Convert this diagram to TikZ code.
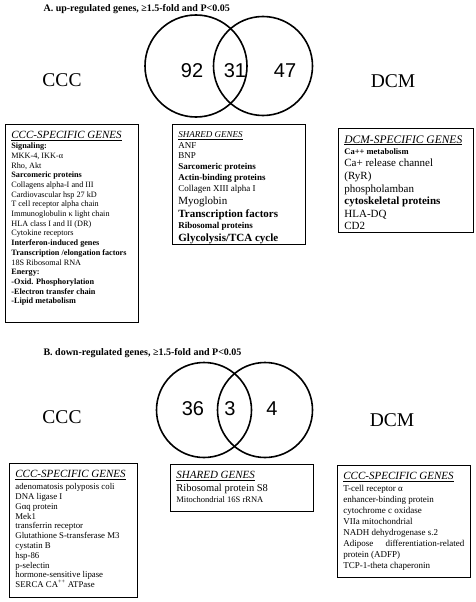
\documentclass[tikz,border=0pt]{standalone}
\usepackage{fontspec}
\setmainfont{Liberation Serif}
\newfontfamily\countfont{Liberation Sans}
\tikzset{
    venn/.style={circle,draw,line width=1.6pt,inner sep=0pt},
    count/.style={font=\countfont\fontsize{20}{20}\selectfont},
    group/.style={font=\fontsize{19.5}{20}\selectfont},
    panel/.style={anchor=base west,font=\bfseries\fontsize{10}{12}\selectfont},
    genes/.style={draw,line width=0.8pt,anchor=north west,inner xsep=6pt,inner ysep=5pt},
}
\newcommand{\gline}[3]{{\fontsize{#1}{#2}\selectfont #3\par}}
\newcommand{\ghead}[1]{\underline{\textit{#1}}}
\newcommand{\genebox}[3]{\parbox[t][#2][t]{#1}{\raggedright\vspace*{2pt}#3}}

\begin{document}
\begin{tikzpicture}[x=1pt,y=-1pt]
    \useasboundingbox (0,0) rectangle (475,602);
    % A. up-regulated genes
    \node[panel] (tA) at (40,12) {A. up-regulated genes, ≥1.5-fold and P<0.05};
    \node[venn,minimum size=102pt] (A1) at (196,66) {};
    \node[venn,minimum size=99pt] (A2) at (263,66) {};
    \node[count] (nA1) at (192,71) {92};
    \node[count] (nA12) at (235,71) {31};
    \node[count] (nA2) at (285,71) {47};
    \node[group] (cccA) at (62,80) {CCC};
    \node[group] (dcmA) at (393,81) {DCM};
    \node[genes] (gA1) at (5,124) {\genebox{121pt}{188pt}{%
        \gline{11}{11}{\ghead{CCC-SPECIFIC GENES}}
        \gline{8.2}{10}{\textbf{Signaling:}}
        \gline{8.2}{9.7}{MKK-4, IKK-α}
        \gline{8.2}{9.7}{Rho, Akt}
        \gline{8.2}{9.7}{\textbf{Sarcomeric proteins}}
        \gline{8.2}{9.7}{Collagens alpha-I and III}
        \gline{8.2}{9.7}{Cardiovascular hsp 27 kD}
        \gline{8.2}{9.7}{T cell receptor alpha chain}
        \gline{8.2}{9.7}{Immunoglobulin κ light chain}
        \gline{8.2}{9.7}{HLA class I and II (DR)}
        \gline{8.2}{9.7}{Cytokine receptors}
        \gline{8.2}{9.7}{\textbf{Interferon-induced genes}}
        \gline{8.2}{9.7}{\textbf{Transcription /elongation factors}}
        \gline{8.2}{9.7}{18S Ribosomal RNA}
        \gline{8.2}{9.7}{\textbf{Energy:}}
        \gline{8.2}{9.7}{\textbf{-Oxid. Phosphorylation}}
        \gline{8.2}{9.7}{\textbf{-Electron transfer chain}}
        \gline{8.2}{9.7}{\textbf{-Lipid metabolism}}}};
    \node[genes] (gA12) at (172,124) {\genebox{121pt}{110pt}{%
        \gline{9}{9}{\ghead{SHARED GENES}}
        \gline{9}{11}{ANF}
        \gline{9}{10.5}{BNP}
        \gline{9}{11}{\textbf{Sarcomeric proteins}}
        \gline{9}{11}{\textbf{Actin-binding proteins}}
        \gline{9}{11}{Collagen XIII alpha I}
        \gline{11}{13}{Myoglobin}
        \gline{11}{13}{\textbf{Transcription factors}}
        \gline{9}{10.5}{\textbf{Ribosomal proteins}}
        \gline{11}{13.5}{\textbf{Glycolysis/TCA cycle}}}};
    \node[genes] (gA2) at (338,128) {\genebox{123pt}{94pt}{%
        \gline{11.5}{11.5}{\ghead{DCM-SPECIFIC GENES}}
        \gline{8.5}{11}{\textbf{Ca++ metabolism}}
        \gline{11}{12.5}{Ca+ release channel}
        \gline{11}{13}{(RyR)}
        \gline{11}{12.5}{phospholamban}
        \gline{11}{12.5}{\textbf{cytoskeletal proteins}}
        \gline{11}{12.5}{HLA-DQ}
        \gline{11}{12.5}{CD2}}};
    % B. down-regulated genes
    \node[panel] (tB) at (40,355) {B. down-regulated genes, ≥1.5-fold and P<0.05};
    \node[venn,minimum size=95pt] (B1) at (204,410) {};
    \node[venn,minimum size=95pt] (B2) at (265,410) {};
    \node[count] (nB1) at (193,409) {36};
    \node[count] (nB12) at (230,409) {3};
    \node[count] (nB2) at (272,409) {4};
    \node[group] (cccB) at (62,417) {CCC};
    \node[group] (dcmB) at (392,420) {DCM};
    \node[genes] (gB1) at (9,463) {\genebox{116pt}{124pt}{%
        \gline{11}{11}{\ghead{CCC-SPECIFIC GENES}}
        \gline{8.8}{12}{adenomatosis polyposis coli}
        \gline{8.8}{9.8}{DNA ligase I}
        \gline{8.8}{9.8}{Gαq protein}
        \gline{8.8}{9.8}{Mek1}
        \gline{8.8}{9.8}{transferrin receptor}
        \gline{8.8}{9.8}{Glutathione S-transferase M3}
        \gline{8.8}{9.8}{cystatin B}
        \gline{8.8}{9.8}{hsp-86}
        \gline{8.8}{9.8}{p-selectin}
        \gline{8.8}{9.8}{hormone-sensitive lipase}
        \gline{8.8}{9.8}{SERCA CA\textsuperscript{++} ATPase}}};
    \node[genes] (gB12) at (170,464) {\genebox{131pt}{37pt}{%
        \gline{11}{11}{\ghead{SHARED GENES}}
        \gline{10.5}{12.5}{Ribosomal protein S8}
        \gline{8.5}{11.5}{Mitochondrial 16S rRNA}}};
    \node[genes] (gB2) at (337,465) {\genebox{121pt}{102pt}{%
        \gline{11}{11}{\ghead{CCC-SPECIFIC GENES}}
        \gline{9}{11.5}{T-cell receptor α}
        \gline{9}{11}{enhancer-binding protein}
        \gline{9}{11}{cytochrome c oxidase}
        \gline{9}{11}{VIIa mitochondrial}
        \gline{9}{11}{NADH dehydrogenase s.2}
        \gline{9}{11}{Adipose\hfill differentiation-related}
        \gline{9}{11}{protein (ADFP)}
        \gline{9}{11}{TCP-1-theta chaperonin}}};
\end{tikzpicture}
\end{document}
